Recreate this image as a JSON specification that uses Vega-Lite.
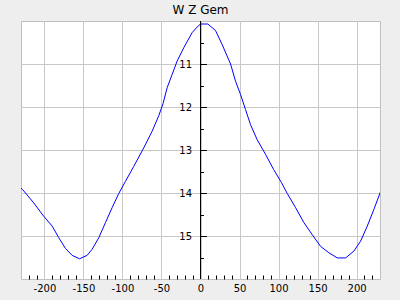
{
  "$schema": "https://vega.github.io/schema/vega-lite/v6.json",
  "width": 359,
  "height": 258,
  "autosize": {"type": "none"},
  "padding": {"left": 21, "top": 21, "right": 20, "bottom": 21},
  "background": "#eeeeee",
  "title": {"text": "W Z Gem", "font": "DejaVu Sans", "fontSize": 12, "fontWeight": "normal", "color": "#000000", "anchor": "middle", "frame": "group", "offset": 4},
  "config": {
    "view": {"fill": "white", "stroke": "#c0c0c0", "strokeWidth": 1},
    "axis": {"labelFont": "DejaVu Sans", "labelFontSize": 10, "labelColor": "#000000"}
  },
  "data": {"values": [
    {"phase": -232, "mag": 13.85},
    {"phase": -228, "mag": 13.92},
    {"phase": -213.7, "mag": 14.23},
    {"phase": -200.9, "mag": 14.54},
    {"phase": -190, "mag": 14.77},
    {"phase": -181.6, "mag": 15.04},
    {"phase": -173, "mag": 15.29},
    {"phase": -164.5, "mag": 15.45},
    {"phase": -155, "mag": 15.53},
    {"phase": -145.3, "mag": 15.45},
    {"phase": -138.9, "mag": 15.31},
    {"phase": -130.3, "mag": 15.04},
    {"phase": -121.8, "mag": 14.69},
    {"phase": -113.2, "mag": 14.34},
    {"phase": -104.7, "mag": 14.01},
    {"phase": -96.2, "mag": 13.73},
    {"phase": -85.5, "mag": 13.38},
    {"phase": -72.7, "mag": 12.95},
    {"phase": -61.9, "mag": 12.56},
    {"phase": -53.4, "mag": 12.2},
    {"phase": -48, "mag": 11.92},
    {"phase": -42.7, "mag": 11.55},
    {"phase": -36.3, "mag": 11.24},
    {"phase": -29.9, "mag": 10.93},
    {"phase": -21.4, "mag": 10.62},
    {"phase": -10.7, "mag": 10.27},
    {"phase": -4.3, "mag": 10.14},
    {"phase": 0, "mag": 10.07},
    {"phase": 9.4, "mag": 10.07},
    {"phase": 19.2, "mag": 10.22},
    {"phase": 27.8, "mag": 10.55},
    {"phase": 38.5, "mag": 11.0},
    {"phase": 44.9, "mag": 11.4},
    {"phase": 51.3, "mag": 11.71},
    {"phase": 57.7, "mag": 12.06},
    {"phase": 64.1, "mag": 12.41},
    {"phase": 72.6, "mag": 12.76},
    {"phase": 83.3, "mag": 13.1},
    {"phase": 93.6, "mag": 13.45},
    {"phase": 103.8, "mag": 13.76},
    {"phase": 111.1, "mag": 14.01},
    {"phase": 121.8, "mag": 14.34},
    {"phase": 132.5, "mag": 14.69},
    {"phase": 143.2, "mag": 14.97},
    {"phase": 153.8, "mag": 15.24},
    {"phase": 164.5, "mag": 15.39},
    {"phase": 175.3, "mag": 15.51},
    {"phase": 185.9, "mag": 15.51},
    {"phase": 196.6, "mag": 15.35},
    {"phase": 205.1, "mag": 15.12},
    {"phase": 213.7, "mag": 14.77},
    {"phase": 222.2, "mag": 14.38},
    {"phase": 228.6, "mag": 14.07},
    {"phase": 232, "mag": 13.9}
  ]},
  "layer": [
    {
      "mark": {"type": "line", "color": "#0000ff", "strokeWidth": 1, "clip": true},
      "encoding": {
        "x": {
          "field": "phase", "type": "quantitative",
          "scale": {"domain": [-230, 230], "nice": false, "zero": false},
          "axis": {
            "orient": "bottom", "title": null, "domain": false,
            "values": [-220, -210, -200, -190, -180, -170, -160, -150, -140, -130, -120, -110, -100, -90, -80, -70, -60, -50, -40, -30, -20, -10, 0, 10, 20, 30, 40, 50, 60, 70, 80, 90, 100, 110, 120, 130, 140, 150, 160, 170, 180, 190, 200, 210, 220],
            "labelExpr": "datum.value % 50 === 0 ? '' + datum.value : ''",
            "labelOverlap": false, "labelFlush": false, "labelBound": false,
            "grid": true,
            "gridColor": {"condition": {"test": "datum.value % 50 === 0", "value": "#c8c8c8"}, "value": "transparent"},
            "tickColor": "#000000", "tickSize": -4,
            "tickOpacity": {"condition": {"test": "datum.value % 50 === 0", "value": 0}, "value": 1},
            "labelPadding": 8
          }
        },
        "y": {
          "field": "mag", "type": "quantitative",
          "scale": {"domain": [10, 16], "reverse": true, "nice": false, "zero": false},
          "axis": {"orient": "right", "title": null, "values": [11, 12, 13, 14, 15], "labels": false, "ticks": false, "domain": false, "grid": true, "gridColor": "#c8c8c8"}
        }
      }
    },
    {
      "data": {"values": [{}]},
      "mark": {"type": "rule", "color": "#000000", "strokeWidth": 1},
      "encoding": {
        "x": {"datum": 0, "type": "quantitative", "axis": null},
        "y": {
          "datum": 10, "type": "quantitative",
          "axis": {
            "orient": "left", "offset": -179.5, "title": null, "domain": false, "grid": false,
            "values": [10.5, 11, 11.5, 12, 12.5, 13, 13.5, 14, 14.5, 15, 15.5],
            "labelExpr": "datum.value % 1 === 0 ? '' + datum.value : ''",
            "labelOverlap": false, "labelFlush": false,
            "tickColor": "#000000",
            "tickSize": {"condition": {"test": "datum.value % 1 === 0", "value": -6}, "value": -3},
            "labelPadding": 15
          }
        },
        "y2": {"datum": 16}
      }
    }
  ],
  "resolve": {"axis": {"x": "independent", "y": "independent"}}
}
